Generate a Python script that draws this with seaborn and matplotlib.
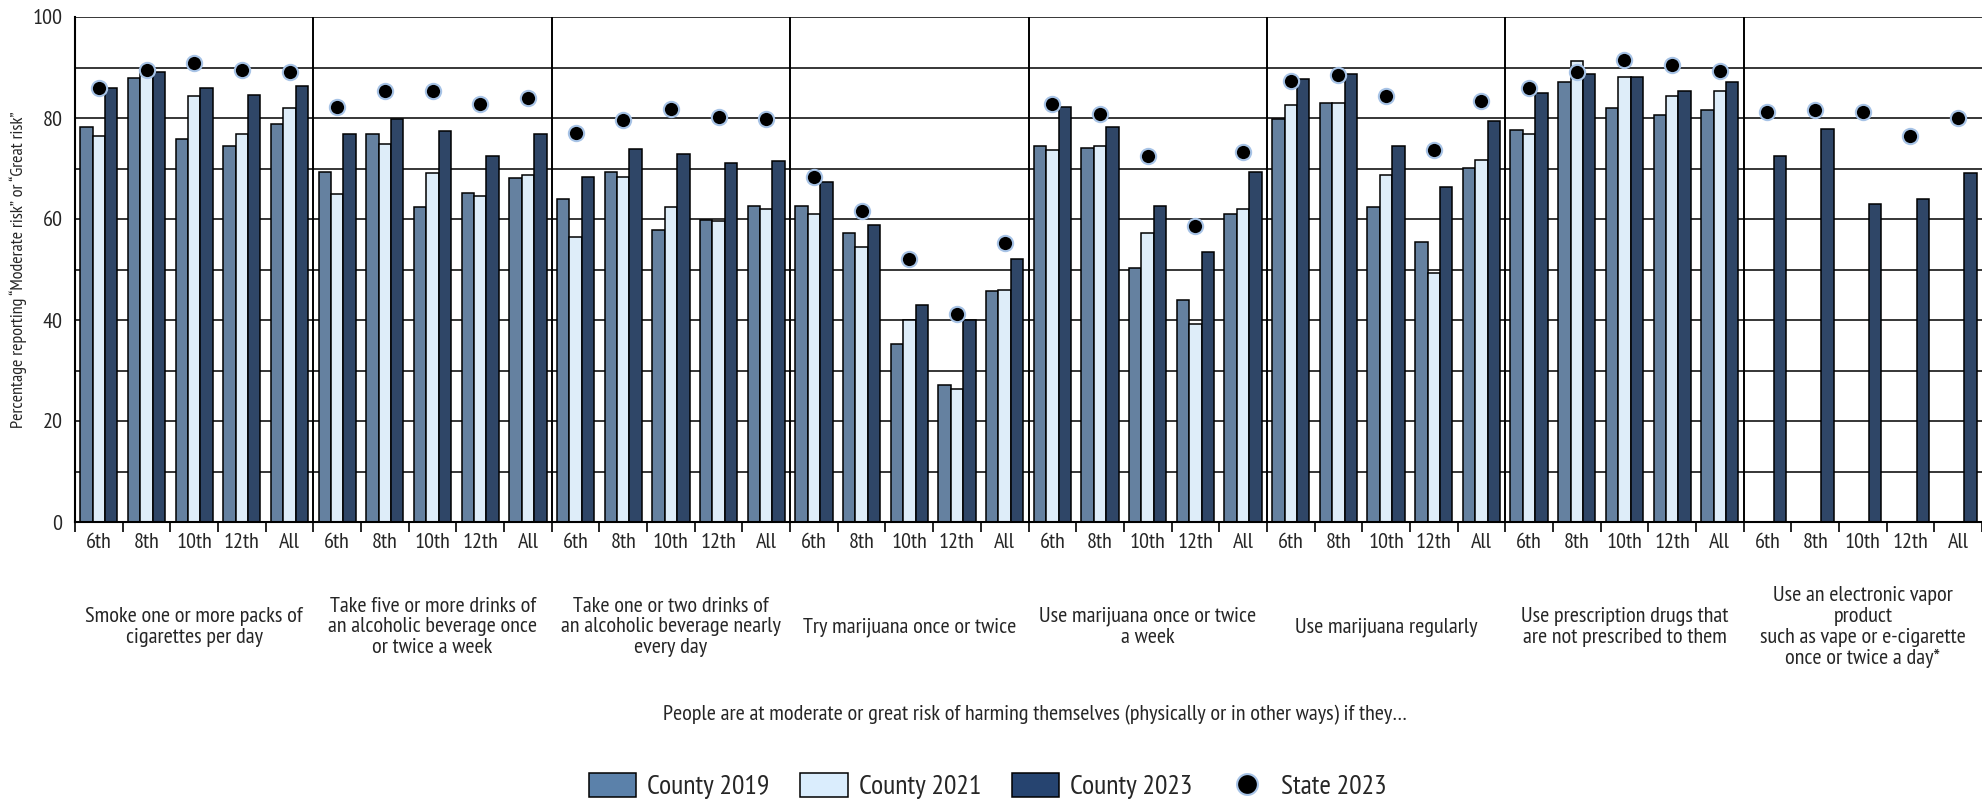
import numpy as np
import pandas as pd
import matplotlib
matplotlib.use("Agg")
import matplotlib.pyplot as plt
import matplotlib.transforms as mtransforms
from matplotlib.patches import Patch
from matplotlib.lines import Line2D
import seaborn as sns

# categories and grades
categories = [
    "Smoke one or more packs of\ncigarettes per day",
    "Take five or more drinks of\nan alcoholic beverage once\nor twice a week",
    "Take one or two drinks of\nan alcoholic beverage nearly\nevery day",
    "Try marijuana once or twice",
    "Use marijuana once or twice\na week",
    "Use marijuana regularly",
    "Use prescription drugs that\nare not prescribed to them",
    "Use an electronic vapor\nproduct\nsuch as vape or e-cigarette\nonce or twice a day*",
]
grades = ["6th", "8th", "10th", "12th", "All"]
series = ["County 2019", "County 2021", "County 2023"]
nan = np.nan

# values, 5 grades per category
county_2019 = [78.3, 88.0, 75.9, 74.5, 78.9,
               69.4, 76.9, 62.3, 65.1, 68.1,
               64.0, 69.4, 57.9, 59.9, 62.6,
               62.6, 57.2, 35.2, 27.1, 45.7,
               74.5, 74.1, 50.2, 44.0, 60.9,
               79.9, 82.9, 62.3, 55.5, 70.1,
               77.6, 87.1, 82.0, 80.6, 81.6,
               nan, nan, nan, nan, nan]
county_2021 = [76.5, 89.0, 84.4, 76.9, 82.0,
               65.0, 74.9, 69.1, 64.6, 68.8,
               56.5, 68.3, 62.3, 59.6, 62.0,
               60.9, 54.5, 40.0, 26.4, 45.9,
               73.7, 74.5, 57.2, 39.3, 62.0,
               82.6, 82.9, 68.8, 49.4, 71.7,
               76.9, 91.2, 88.1, 84.4, 85.3,
               nan, nan, nan, nan, nan]
county_2023 = [86.0, 89.1, 86.0, 84.6, 86.3,
               76.9, 79.9, 77.5, 72.5, 76.9,
               68.4, 73.8, 72.8, 71.1, 71.4,
               67.4, 58.9, 43.0, 40.0, 52.1,
               82.2, 78.2, 62.6, 53.5, 69.4,
               87.7, 88.7, 74.5, 66.4, 79.5,
               85.0, 88.7, 88.1, 85.4, 87.1,
               72.5, 77.9, 63.0, 64.0, 69.1]
state_2023 = [85.9, 89.5, 90.8, 89.6, 89.1,
              82.2, 85.3, 85.4, 82.7, 84.0,
              77.0, 79.6, 81.8, 80.2, 79.8,
              68.4, 61.6, 52.0, 41.2, 55.2,
              82.7, 80.7, 72.5, 58.7, 73.2,
              87.4, 88.5, 84.4, 73.7, 83.4,
              85.9, 89.2, 91.4, 90.5, 89.4,
              81.1, 81.5, 81.1, 76.4, 80.0]

colors = ["#5b81aa", "#daedfd", "#264470"]
dot_edge = "#a7c3e6"

# build long data frames
keys = [f"{i}|{g}" for i in range(len(categories)) for g in grades]
bars = pd.DataFrame({
    "key": keys * 3,
    "series": np.repeat(series, len(keys)),
    "value": county_2019 + county_2021 + county_2023,
}).dropna()
state = pd.DataFrame({"key": keys, "value": state_2023})

sns.set_style("white")
plt.rcParams["font.family"] = ["PT Sans Narrow", "Roboto Condensed", "DejaVu Sans"]

fig = plt.figure(figsize=(19.82, 8), dpi=100)
ax = fig.add_axes([75 / 1982, 1 - 522 / 800, 1 - 75 / 1982, 505 / 800])

sns.barplot(data=bars, x="key", y="value", hue="series", order=keys,
            hue_order=series, palette=colors, width=0.78, errorbar=None,
            edgecolor="black", linewidth=1.1, legend=False, ax=ax, zorder=2)
sns.stripplot(data=state, x="key", y="value", order=keys, jitter=False,
              color="black", size=11, edgecolor=dot_edge, linewidth=1.5,
              ax=ax, zorder=5)

# axes styling
ax.set_xlim(-0.5, (1982 - 75) / 48 - 0.5)
ax.set_ylim(0, 100)
ax.set_yticks(range(0, 101, 20))
ax.set_yticks(range(0, 101, 10), minor=True)
ax.set_yticklabels([str(v) for v in range(0, 101, 20)], fontsize=16)
ax.set_axisbelow(True)
ax.yaxis.grid(True, which="both", color="black", linewidth=1.1)
ax.xaxis.grid(False)
ax.tick_params(axis="y", which="major", length=7, width=1.2, color="black", pad=2)
ax.tick_params(axis="y", which="minor", length=0)

ax.set_xticks(np.arange(-0.5, len(keys), 1))
ax.set_xticklabels([])
ax.set_xticks(np.arange(len(keys)), minor=True)
ax.set_xticklabels(grades * len(categories), minor=True, fontsize=16)
ax.tick_params(axis="x", which="major", length=7, width=1.2, color="black", bottom=True)
ax.tick_params(axis="x", which="minor", length=0, pad=8, bottom=True)
ax.set_xlabel("")
ax.set_ylabel("")

for side in ["top", "right"]:
    ax.spines[side].set_visible(False)
for side in ["left", "bottom"]:
    ax.spines[side].set_color("black")
    ax.spines[side].set_linewidth(1.5)

# separators between behaviours
for i in range(1, len(categories)):
    ax.axvline(i * len(grades) - 0.5, color="black", linewidth=1.4, zorder=1)

# behaviour labels under the grade ticks
trans = mtransforms.blended_transform_factory(ax.transData, fig.transFigure)
for i, label in enumerate(categories):
    ax.text(i * len(grades) + 2, 1 - 627 / 800, label, transform=trans,
            ha="center", va="center", multialignment="center",
            fontsize=16, linespacing=1.12)

fig.text(1035 / 1982, 1 - 715 / 800,
         "People are at moderate or great risk of harming themselves "
         "(physically or in other ways) if they\u2026",
         ha="center", va="center", fontsize=16)
fig.text(18 / 1982, 1 - 270 / 800,
         "Percentage reporting \u201cModerate risk\u201d or \u201cGreat risk\u201d",
         rotation=90, ha="center", va="center", fontsize=13)

handles = [Patch(facecolor=c, edgecolor="black", linewidth=1.1) for c in colors]
handles.append(Line2D([], [], marker="o", linestyle="none", color="black",
                      markersize=15, markeredgecolor=dot_edge, markeredgewidth=1.5))
fig.legend(handles, series + ["State 2023"], loc="center",
           bbox_to_anchor=(988 / 1982, 1 - 786 / 800), ncol=4, frameon=False,
           fontsize=20, handlelength=1.7, handleheight=0.95,
           handletextpad=0.4, columnspacing=1.1, borderaxespad=0, borderpad=0)

fig.savefig("out.png", dpi=100)
